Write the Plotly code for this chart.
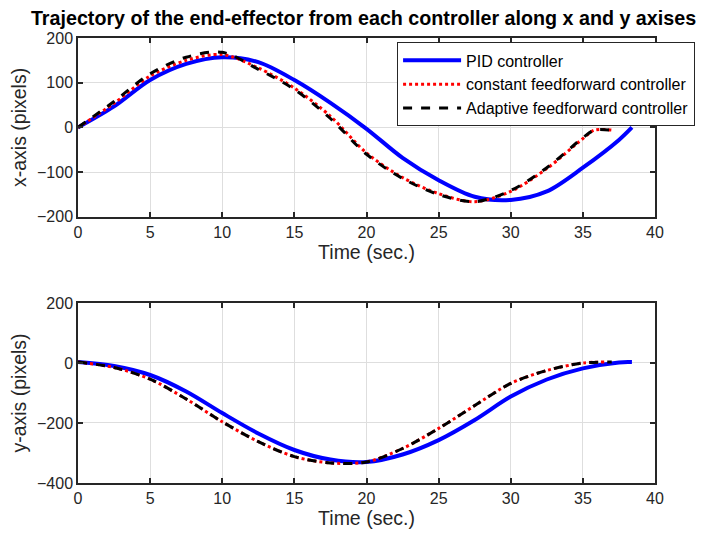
import plotly.graph_objects as go
from plotly.subplots import make_subplots

# ---- data ----
t_pid = [0, 2.5, 5, 7.5, 10, 12.5, 15, 17.5, 20, 22.5, 25, 27.5, 30, 32.5, 35, 37.5, 38.4]
x_pid = [0, 47, 106, 142, 157, 146, 106, 55, -3, -68, -118, -155, -162, -143, -90, -28, 0]
y_pid = [3, -10, -40, -95, -167, -235, -290, -322, -330, -305, -257, -190, -112, -55, -18, 2, 3]

t_cff = [0, 2.5, 5, 7.5, 10, 12.5, 15, 17.5, 20, 22.5, 25, 27.5, 30, 32.5, 35, 35.8, 37]
x_cff = [0, 54, 115, 150, 163, 133, 88, 25, -57, -112, -148, -166, -143, -92, -25, -6, -6]
t_cffy = [0, 2.5, 5, 7.5, 10, 12.5, 15, 17.5, 20, 22.5, 25, 27.5, 30, 32.5, 35, 36.6]
y_cff = [3, -15, -54, -120, -196, -262, -312, -333, -330, -285, -218, -142, -68, -25, 0, 3]

t_aff = [0, 2.5, 5, 7.5, 10, 12.5, 15, 17.5, 20, 22.5, 25, 27.5, 30, 32.5, 35, 35.8, 36.9]
x_aff = [0, 58, 120, 157, 168, 130, 85, 20, -60, -114, -150, -166, -141, -90, -23, -6, -6]
t_affy = [0, 2.5, 5, 7.5, 10, 12.5, 15, 17.5, 20, 22.5, 25, 27.5, 30, 32.5, 35, 37]
y_aff = [3, -15, -54, -120, -196, -262, -312, -333, -330, -285, -218, -142, -68, -25, 0, 3]

names = ["PID controller", "constant feedforward controller", "Adaptive feedforward controller"]
x_ticks = [0, 5, 10, 15, 20, 25, 30, 35, 40]

FONT = "Liberation Sans, Arial, Helvetica, sans-serif"
AX = "#262626"

fig = make_subplots(rows=2, cols=1, vertical_spacing=0.0)

styles = [dict(color="blue", width=4, dash="solid"),
          dict(color="red", width=3, dash="dot"),
          dict(color="black", width=3, dash="dash")]

series_top = [(t_pid, x_pid), (t_cff, x_cff), (t_aff, x_aff)]
series_bot = [(t_pid, y_pid), (t_cffy, y_cff), (t_affy, y_aff)]

for i, (tt, vv) in enumerate(series_top):
    fig.add_trace(go.Scatter(x=tt, y=vv, mode="lines", name=names[i],
                             line=dict(shape="spline", smoothing=0.9, **styles[i]),
                             showlegend=True), row=1, col=1)
for i, (tt, vv) in enumerate(series_bot):
    fig.add_trace(go.Scatter(x=tt, y=vv, mode="lines", name=names[i],
                             line=dict(shape="spline", smoothing=0.9, **styles[i]),
                             showlegend=False), row=2, col=1)

axis_common = dict(showline=True, linecolor=AX, linewidth=1.5, mirror="ticks", ticks="inside", ticklen=5,
                   tickwidth=1.5, tickcolor=AX, showgrid=True, gridcolor="#dedede", gridwidth=1,
                   zeroline=False, automargin=False, tickfont=dict(family=FONT, size=16, color=AX))
title_font = dict(family=FONT, size=19.5, color=AX)

fig.update_xaxes(range=[0, 40], tickvals=x_ticks, **axis_common)
fig.update_xaxes(title=dict(text="Time (sec.)", font=title_font, standoff=3), row=1, col=1)
fig.update_xaxes(title=dict(text="Time (sec.)", font=title_font, standoff=3), row=2, col=1)
fig.update_yaxes(**axis_common)
fig.update_yaxes(range=[-200, 200], tickvals=[-200, -100, 0, 100, 200],
                 title=dict(text="x-axis (pixels)", font=title_font, standoff=8), row=1, col=1)
fig.update_yaxes(range=[-400, 200], tickvals=[-400, -200, 0, 200],
                 title=dict(text="y-axis (pixels)", font=title_font, standoff=8), row=2, col=1)

fig.update_layout(
    width=705, height=537,
    margin=dict(l=70, r=58, t=30, b=62),
    paper_bgcolor="white", plot_bgcolor="white",
    title=dict(text="<b>Trajectory of the end-effector from each controller along x and y axises</b>",
               font=dict(family=FONT, size=19.7, color="black"), x=355.5 / 705, xanchor="center",
               y=1 - 10 / 537, yanchor="middle"),
    legend=dict(x=0.553, y=0.99, xanchor="left", yanchor="top", bgcolor="white", bordercolor=AX, borderwidth=1,
                font=dict(family=FONT, size=16, color="black"), tracegroupgap=0, itemwidth=58),
    showlegend=True,
)
fig.update_layout(yaxis=dict(domain=[0.598, 1.0]), yaxis2=dict(domain=[0.0, 0.4045]))

fig.write_html("out.html")
